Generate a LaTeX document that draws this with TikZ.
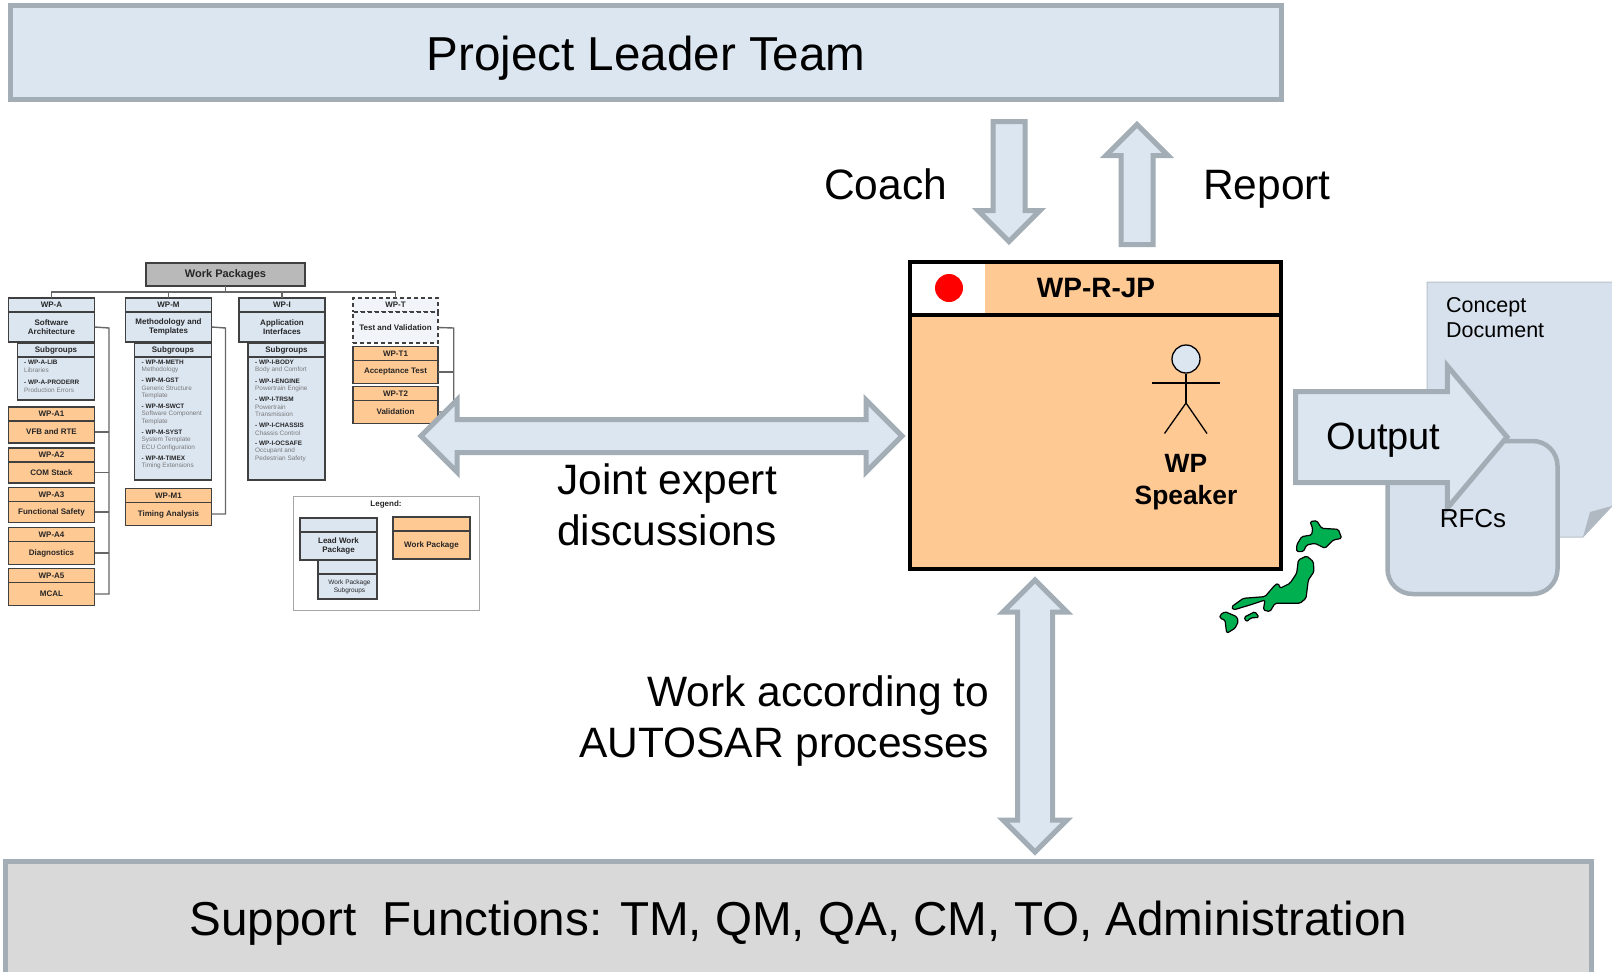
\documentclass[tikz,border=0pt]{standalone}
\usepackage{fontspec}
\setmainfont{Liberation Sans}
\usetikzlibrary{positioning,shapes.arrows}
\definecolor{boxblue}{HTML}{DCE6F1}
\definecolor{docblue}{HTML}{D6E1ED}
\definecolor{edgegray}{HTML}{A2ADB6}
\definecolor{wporange}{HTML}{FFC993}
\definecolor{supportgray}{HTML}{D9D9D9}
\definecolor{chartline}{HTML}{404040}
\definecolor{charttext}{HTML}{262626}
\definecolor{japangreen}{HTML}{00B050}
\newcommand{\pxfont}[1]{\fontsize{#1}{#1}\selectfont}

\begin{document}
\begin{tikzpicture}[
    x=1pt, y=-1pt,
    bigbox/.style={rectangle, draw=edgegray, line width=5pt, inner sep=0pt, outer sep=0pt},
    bigtext/.style={inner sep=0pt, font=\fontsize{42.5}{51}\selectfont},
    arrowsingle/.style={single arrow, draw=edgegray, fill=boxblue, line width=5pt, inner sep=0pt, outer sep=0pt, text depth=0pt, anchor=tip},
    arrowdouble/.style={double arrow, double arrow tip angle=90, draw=edgegray, fill=boxblue, line width=5pt, inner sep=0pt, outer sep=0pt, text depth=0pt},
    speakertext/.style={inner sep=0pt, font=\bfseries\pxfont{26.4}},
    stickline/.style={draw=black, line width=1.3pt},
    busline/.style={draw=chartline!80, line width=1.4pt},
    wphead/.style={rectangle, draw=chartline, line width=1.1pt, inner sep=0pt, outer sep=0pt, text=charttext, font=\bfseries\pxfont{8}, minimum height=14pt},
    wpbody/.style={wphead, align=center, font=\bfseries\fontsize{8}{9.6}\selectfont},
    leadblue/.style={fill=boxblue, minimum width=86pt},
    packorange/.style={fill=wporange, minimum width=86pt},
    subblue/.style={fill=boxblue, minimum width=77pt},
    testdash/.style={fill=boxblue!40, minimum width=85pt, dash pattern=on 4pt off 3pt},
    subt/.style={anchor=west, inner sep=0pt, text=charttext, font=\bfseries\pxfont{6.4}},
    subs/.style={anchor=west, inner sep=0pt, text=chartline!70, font=\pxfont{6.4}},
]
% page
\useasboundingbox (0,0) rectangle (1612,972);

% top and bottom bars
\node[bigbox, fill=boxblue, minimum width=1271pt, minimum height=94pt] (leaderteam) at (646,52.5) {};
\node[inner sep=0pt, font=\pxfont{47.6}] (leaderlabel) at (646,58) {Project Leader Team};
\node[bigbox, fill=supportgray, minimum width=1586pt, minimum height=116pt] (support) at (798.5,919) {};
\node[inner sep=0pt, font=\pxfont{47.6}] (supportlabel) at (798.5,923) {Support\ \ Functions: TM, QM, QA, CM, TO, Administration};

% work package tree
\node[wphead, fill=gray!55, minimum width=159pt, minimum height=23pt, font=\bfseries\pxfont{11}] (packages) at (225.5,274.5) {Work Packages};
\node[wphead, leadblue] (wpah) at (51.5,305) {WP-A};
\node[wpbody, leadblue, minimum height=30pt, below=0pt of wpah] (wpa) {Software\\Architecture};
\node[wphead, leadblue] (wpmh) at (168.5,305) {WP-M};
\node[wpbody, leadblue, minimum height=30pt, below=0pt of wpmh] (wpm) {Methodology and\\Templates};
\node[wphead, leadblue] (wpih) at (282,305) {WP-I};
\node[wpbody, leadblue, minimum height=30pt, below=0pt of wpih] (wpi) {Application\\Interfaces};
\node[wphead, testdash] (wpth) at (395.5,305) {WP-T};
\node[wpbody, testdash, minimum height=31pt, below=0pt of wpth] (wpt) {Test and Validation};

% subgroup boxes
\node[wphead, subblue] (subah) at (56,350) {Subgroups};
\node[wphead, subblue, minimum height=43pt, below=0pt of subah] (suba) {};
\node[wphead, subblue] (submh) at (173,350) {Subgroups};
\node[wphead, subblue, minimum height=123pt, below=0pt of submh] (subm) {};
\node[wphead, subblue] (subih) at (286.5,350) {Subgroups};
\node[wphead, subblue, minimum height=123pt, below=0pt of subih] (subi) {};

% orange packages
\foreach \n/\t/\y/\h in {a1/VFB and RTE/414/22, a2/COM Stack/455/21, a3/Functional Safety/494.5/21, a4/Diagnostics/534.5/23, a5/MCAL/575.5/23}
{
    \node[wphead, packorange] (wp\n h) at (51.5,\y) {WP-\expandafter\MakeUppercase\n};
    \node[wpbody, packorange, minimum height=\h pt, below=0pt of wp\n h] (wp\n) {\t};
}
\node[wphead, packorange] (wpm1h) at (168.5,495.5) {WP-M1};
\node[wpbody, packorange, minimum height=23pt, below=0pt of wpm1h] (wpm1) {Timing Analysis};
\node[wphead, packorange, minimum width=85pt] (wpt1h) at (395.5,353.5) {WP-T1};
\node[wpbody, packorange, minimum width=85pt, minimum height=23pt, below=0pt of wpt1h] (wpt1) {Acceptance Test};
\node[wphead, packorange, minimum width=85pt] (wpt2h) at (395.5,393.5) {WP-T2};
\node[wpbody, packorange, minimum width=85pt, minimum height=23pt, below=0pt of wpt2h] (wpt2) {Validation};

% subgroup lists
\foreach \k/\t/\y in {t/- WP-A-LIB/362.7, s/Libraries/370.7, t/- WP-A-PRODERR/382, s/Production Errors/390}
    \node[sub\k] (la\y) at (24-\ifx\k t3.9\else0\fi,\y) {\t};
\foreach \k/\t/\y in {t/- WP-M-METH/362, s/Methodology/370, t/- WP-M-GST/380.7, s/Generic Structure/388, s/Template/396, t/- WP-M-SWCT/406.7, s/Software Component/414, s/Template/422, t/- WP-M-SYST/432, s/System Template/440, s/ECU Configuration/448, t/- WP-M-TIMEX/458.7, s/Timing Extensions/466}
    \node[sub\k] (lm\y) at (141.5-\ifx\k t3.9\else0\fi,\y) {\t};
\foreach \k/\t/\y in {t/- WP-I-BODY/362, s/Body and Comfort/370, t/- WP-I-ENGINE/381, s/Powertrain Engine/388.7, t/- WP-I-TRSM/399, s/Powertrain/407, s/Transmission/414, t/- WP-I-CHASSIS/425, s/Chassis Control/433, t/- WP-I-OCSAFE/443.7, s/Occupant and/451, s/Pedestrian Safety/459}
    \node[sub\k] (li\y) at (255-\ifx\k t3.9\else0\fi,\y) {\t};

% tree lines
\coordinate (treebus) at (225.5,292);
\draw[busline] (packages.south) -- (treebus);
\draw[busline] (wpah.north) |- (treebus) -| (wpth.north);
\draw[busline] (wpmh.north) -- (wpmh.north |- treebus);
\draw[busline] (wpih.north) -- (wpih.north |- treebus);
\coordinate (abus) at (109,328);
\coordinate (mbus) at (225.5,328);
\coordinate (tbus) at (453.7,328);
\draw[busline] (wpa.east) -- (abus) |- (wpa5.east);
\foreach \n in {a1,a2,a3,a4}
    \draw[busline] (wp\n.east) -- (wp\n.east -| abus);
\draw[busline] (wpm.east) -- (mbus) |- (wpm1.east);
\draw[busline] (wpt.east) -- (tbus) |- (wpt2.east);
\draw[busline] (wpt1.east) -- (wpt1.east -| tbus);

% legend
\node[rectangle, draw=gray!70, line width=0.8pt, minimum width=186pt, minimum height=114pt, inner sep=0pt] (legend) at (386,553) {};
\node[inner sep=0pt, text=charttext, font=\bfseries\pxfont{8}] (legendtitle) at (386,504) {Legend:};
\node[wphead, fill=boxblue, minimum width=77pt] (leadh) at (338.5,525) {};
\node[wpbody, fill=boxblue, minimum width=77pt, minimum height=28pt, below=0pt of leadh] (lead) {Lead Work\\Package};
\node[wphead, fill=boxblue, minimum width=59pt] (groupsh) at (347.5,567) {};
\node[wpbody, fill=boxblue, minimum width=59pt, minimum height=25pt, below=0pt of groupsh, font=\fontsize{6.5}{8}\selectfont] (groups) {\hspace{4pt}Work Package\\\hspace{4pt}Subgroups};
\node[wphead, fill=wporange, minimum width=77pt] (packh) at (431.5,524) {};
\node[wpbody, fill=wporange, minimum width=77pt, minimum height=28pt, below=0pt of packh] (pack) {Work Package};

% coach and report
\node[arrowsingle, rotate=-90, text height=27pt, minimum height=120pt, minimum width=57pt, single arrow head extend=15pt] (coach) at (1009,241.5) {};
\node[arrowsingle, rotate=90, text height=27pt, minimum height=120pt, minimum width=57pt, single arrow head extend=15pt] (report) at (1137,124.5) {};
\node[bigtext] (coachlabel) at (885.5,184) {Coach};
\node[bigtext] (reportlabel) at (1267,189) {Report};

% joint discussion and process arrows
\node[arrowdouble, text height=28pt, minimum height=481pt, minimum width=67pt, double arrow head extend=19.5pt] (joint) at (661.5,436) {};
\node[bigtext, align=left, anchor=west] (jointlabel) at (557,505) {Joint expert\\discussions};
\node[arrowdouble, rotate=90, text height=30pt, minimum height=272pt, minimum width=59pt, double arrow head extend=14.5pt] (process) at (1035,716) {};
\node[bigtext, align=right, anchor=east] (processlabel) at (989.5,721) {Work according to\\AUTOSAR processes};

% WP-R-JP box
\node[rectangle, draw=black, fill=wporange, line width=4pt, inner sep=0pt, outer sep=0pt, minimum width=371pt, minimum height=254pt] (jpbody) at (1095.5,442) {};
\node[rectangle, draw=black, fill=wporange, line width=4pt, inner sep=0pt, outer sep=0pt, minimum width=371pt, minimum height=53pt, above=0pt of jpbody] (jphead) {};
\node[rectangle, fill=white, inner sep=0pt, minimum width=73pt, minimum height=49pt] (flag) at (948.5,288.5) {};
\node[circle, fill=red, inner sep=0pt, minimum size=28pt] (sun) at (949,288) {};
\node[inner sep=0pt, font=\bfseries\pxfont{28}] (jplabel) at (1096,288) {WP-R-JP};

% speaker
\node[circle, draw=black, fill=boxblue, line width=1.3pt, inner sep=0pt, minimum size=28pt] (speakerhead) at (1186,359) {};
\coordinate (waist) at (1186,403);
\coordinate (armleft) at (1152,383);
\coordinate (armright) at (1220,383);
\coordinate (footleft) at (1164.5,433.5);
\coordinate (footright) at (1207,433.5);
\draw[stickline] (speakerhead.south) -- (waist);
\draw[stickline] (armleft) -- (armright);
\draw[stickline] (footleft) -- (waist) -- (footright);
\node[speakertext] (speakerone) at (1186,463) {WP};
\node[speakertext] (speakertwo) at (1186,498) {Speaker};

% output documents
\path[draw=edgegray!75, line width=1pt, fill=docblue] (1612,282) -- (1427,282) -- (1427,537) -- (1583,537) -- (1612,506);
\fill[edgegray!85] (1583,537) -- (1590,512) -- (1612,506) -- cycle;
\node[inner sep=0pt, anchor=west, align=left, font=\fontsize{21.5}{25}\selectfont] (conceptlabel) at (1446,318) {Concept\\Document};
\node[rectangle, rounded corners=25pt, draw=edgegray, fill=docblue, line width=4.5pt, inner sep=0pt, minimum width=170pt, minimum height=153pt] (rfcbox) at (1472.5,517.5) {};
\node[arrowsingle, single arrow tip angle=100, text height=86pt, minimum height=211.5pt, minimum width=137pt, single arrow head extend=25.5pt] (output) at (1507,437) {};
\node[inner sep=0pt, font=\pxfont{38}] (outputlabel) at (1383.5,440) {Output};
\node[inner sep=0pt, font=\pxfont{26}] (rfclabel) at (1473,519) {RFCs};

% Japan
\begin{scope}[shift={(1200,270)}, x=0.3333pt, y=-0.3333pt]
\filldraw[fill=japangreen, draw=black, line width=1.2pt, rounded corners=1.5pt]
    (330,755) -- (350,752) -- (365,775) -- (415,778) -- (425,805) -- (400,810) -- (375,835) -- (345,820) -- (320,825) -- (310,845) -- (290,845) -- (290,825) -- (305,800) -- (335,795) -- (338,775) -- cycle
    (295,870) -- (320,858) -- (340,875) -- (342,905) -- (325,930) -- (318,985) -- (300,1000) -- (225,1000) -- (210,1025) -- (190,1020) -- (195,990) -- (150,1005) -- (100,1020) -- (95,1010) -- (130,985) -- (195,980) -- (225,945) -- (235,940) -- (240,955) -- (270,940) -- (290,910) -- cycle
    (132,1042) -- (165,1025) -- (177,1042) -- (152,1044) -- (140,1056) -- cycle
    (60,1035) -- (75,1025) -- (110,1040) -- (115,1055) -- (105,1075) -- (80,1090) -- (75,1050) -- (60,1045) -- cycle;
\end{scope}
\end{tikzpicture}
\end{document}
